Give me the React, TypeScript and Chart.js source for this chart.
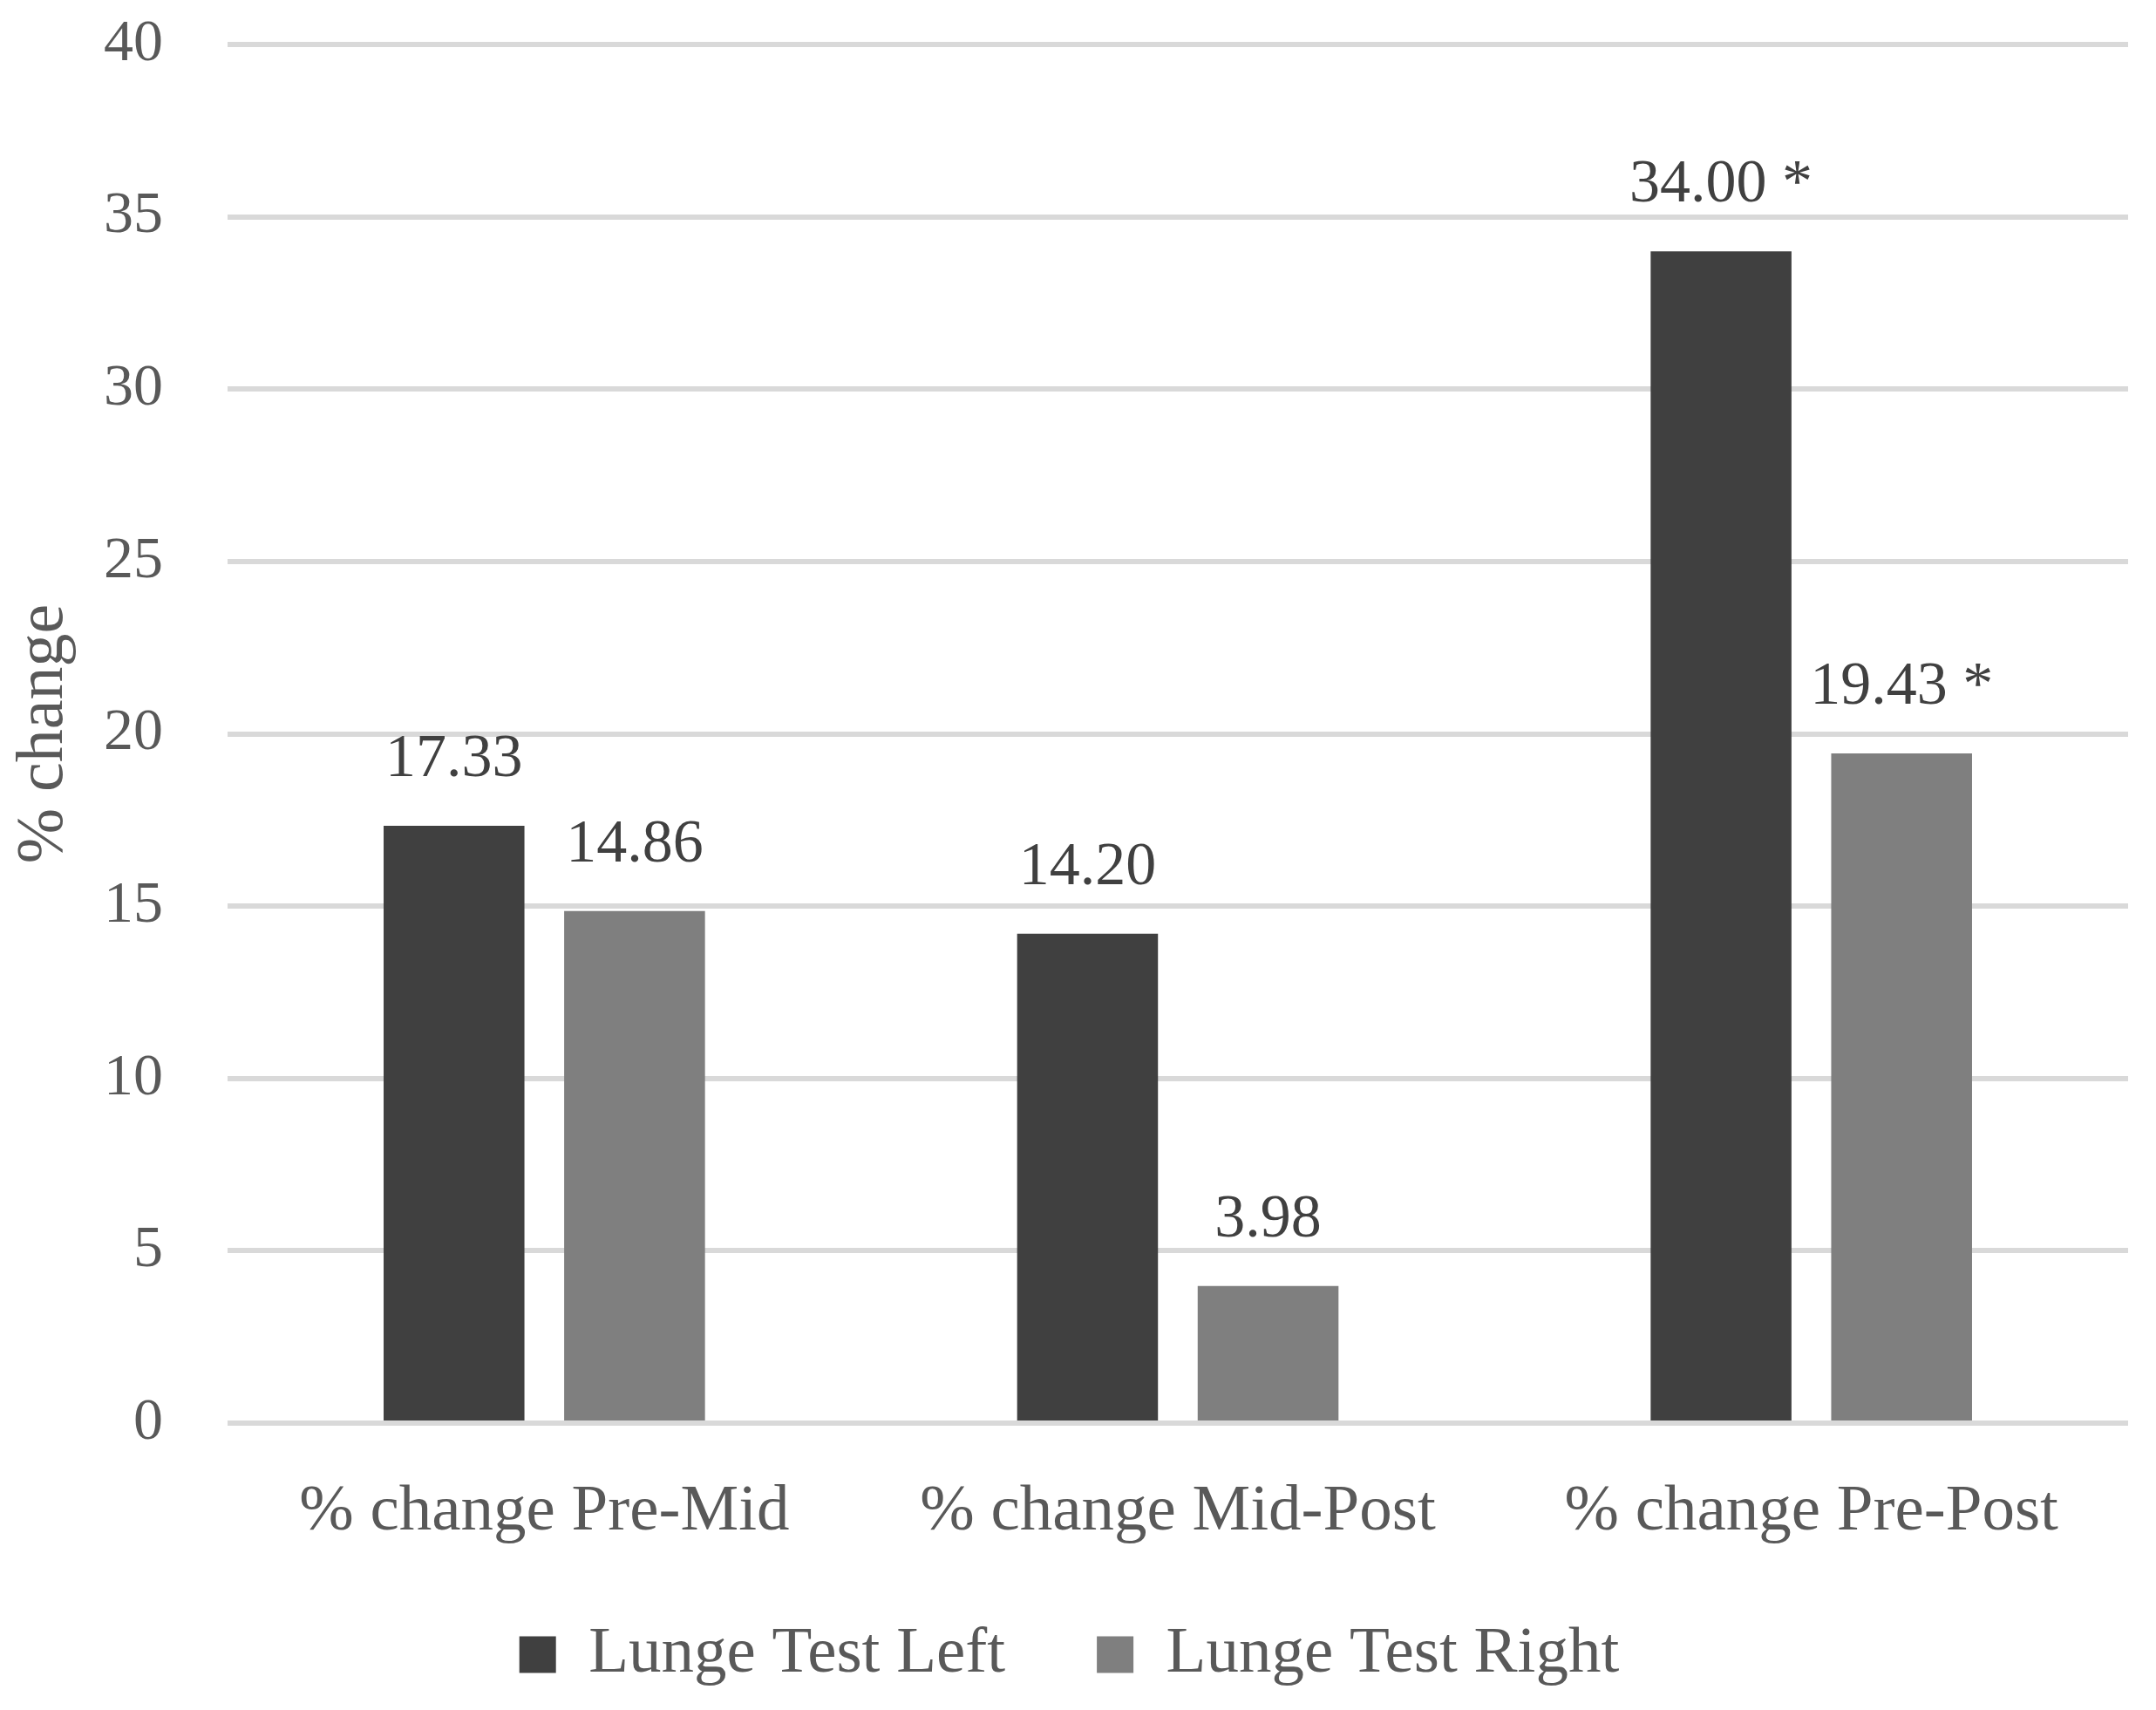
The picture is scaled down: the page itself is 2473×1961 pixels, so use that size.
import React, { useEffect, useRef } from "react";
import { Chart, registerables } from "chart.js";

Chart.register(...registerables);

const categories = ["% change Pre-Mid", "% change Mid-Post", "% change Pre-Post"];
const seriesNames = ["Lunge Test Left", "Lunge Test Right"];
const leftValues = [17.33, 14.2, 34.0];
const rightValues = [14.86, 3.98, 19.43];
const leftLabels = ["17.33", "14.20", "34.00 *"];
const rightLabels = ["14.86", "3.98", "19.43 *"];
const yTicks = [0, 5, 10, 15, 20, 25, 30, 35, 40];

const FONT = "'Liberation Serif', 'Times New Roman', serif";
const TEXT = "#595959";

const valueLabelPlugin = {
  id: "valueLabels",
  afterDatasetsDraw(chart: any) {
    const ctx = chart.ctx;
    const all = [leftLabels, rightLabels];
    ctx.save();
    ctx.font = `70px ${FONT}`;
    ctx.fillStyle = "#404040";
    ctx.textAlign = "center";
    ctx.textBaseline = "alphabetic";
    chart.data.datasets.forEach((_: any, di: number) => {
      const meta = chart.getDatasetMeta(di);
      meta.data.forEach((el: any, i: number) => {
        ctx.fillText(all[di][i], el.x, el.y - 57);
      });
    });
    ctx.restore();
  },
};

// let the category labels extend below the (compact) x-axis box without being clipped
const unclipXLabels = {
  id: "unclipXLabels",
  afterLayout(chart: any) {
    const x = chart.scales.x;
    if (x) x.bottom = chart.height;
  },
};

export default function App() {
  const ref = useRef<HTMLCanvasElement>(null);
  useEffect(() => {
    document.body.style.margin = "0";
    const chart = new Chart(ref.current!, {
      type: "bar",
      data: {
        labels: categories,
        datasets: [
          {
            label: seriesNames[0],
            data: leftValues,
            backgroundColor: "#404040",
            categoryPercentage: 0.57,
            barPercentage: 0.78,
          },
          {
            label: seriesNames[1],
            data: rightValues,
            backgroundColor: "#7f7f7f",
            categoryPercentage: 0.57,
            barPercentage: 0.78,
          },
        ],
      },
      options: {
        responsive: false,
        animation: false,
        devicePixelRatio: 1,
        layout: { padding: { left: 12, right: 32, top: 51, bottom: 16 } },
        plugins: {
          legend: {
            position: "bottom",
            labels: {
              font: { family: FONT, size: 75 },
              color: TEXT,
              boxWidth: 42,
              boxHeight: 42,
              padding: 105,
            },
          },
          tooltip: { enabled: false },
        },
        scales: {
          x: {
            grid: { display: false, drawTicks: false },
            border: { display: false },
            ticks: {
              font: { family: FONT, size: 75 },
              color: TEXT,
              padding: 57,
            },
            afterFit: (s: any) => {
              s.height = 123;
            },
          },
          y: {
            min: 0,
            max: 40,
            afterBuildTicks: (s: any) => {
              s.ticks = yTicks.map((v) => ({ value: v }));
            },
            grid: { color: "#d9d9d9", lineWidth: 6, drawTicks: false },
            border: { display: false },
            ticks: {
              font: { family: FONT, size: 68 },
              color: TEXT,
              padding: 74,
            },
            title: {
              display: true,
              text: "% change",
              font: { family: FONT, size: 76 },
              color: TEXT,
              padding: { top: -7, bottom: 0 },
            },
            afterFit: (s: any) => {
              s.width = 249;
              s.paddingTop = 0;
              s.paddingBottom = 0;
            },
          },
        },
      },
      plugins: [valueLabelPlugin, unclipXLabels],
    });
    return () => chart.destroy();
  }, []);
  return (
    <div style={{ position: "absolute", left: 0, top: 0, width: 2473, height: 1961, background: "#fff" }}>
      <canvas ref={ref} width={2473} height={1961} style={{ width: 2473, height: 1961 }} />
    </div>
  );
}
